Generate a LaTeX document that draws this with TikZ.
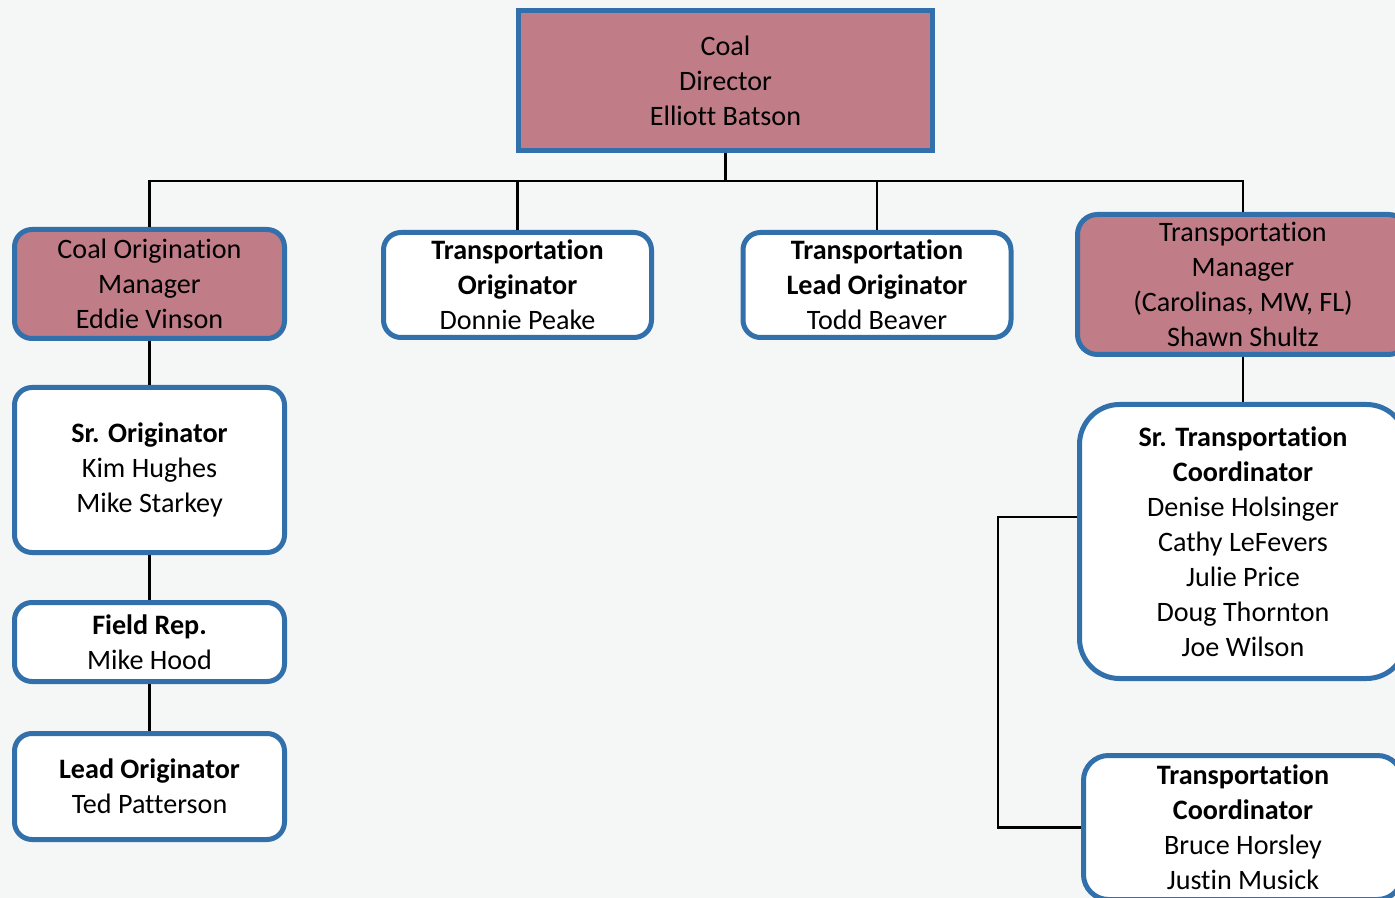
\documentclass[tikz,border=0pt]{standalone}
\usepackage{fontspec}
\setmainfont[Ligatures=NoCommon]{Carlito}
\usepackage{xcolor}
\usetikzlibrary{calc}

\definecolor{boxblue}{RGB}{50,112,172}
\definecolor{mgrpink}{RGB}{192,124,135}
\definecolor{paper}{RGB}{245,246,246}

\begin{document}
\begin{tikzpicture}[line width=1.4pt,
    unit/.style={draw=boxblue, line width=0.1cm, fill=white, align=center,
      inner sep=0pt, rounded corners=0.35cm,
      font=\fontsize{16}{19.9}\selectfont},
    mgr/.style={unit, fill=mgrpink},
    link/.style={draw=black, line width=1.4pt}]

  % page and background
  \useasboundingbox (0,0) rectangle (27.9,-17.96);
  \fill[paper] (0,0) rectangle (27.9,-17.96);

  % top of the chart
  \node[mgr, rounded corners=0pt, minimum width=8.28cm, minimum height=2.8cm]
    (dir) at (14.51,-1.61) {Coal\\Director\\Elliott Batson};

  % second level
  \node[mgr, minimum width=5.4cm, minimum height=2.18cm]
    (com) at (2.99,-5.68) {Coal Origination\\Manager\\Eddie Vinson};
  \node[unit, minimum width=5.36cm, minimum height=2.1cm]
    (to) at (10.35,-5.7) {\textbf{Transportation}\\\textbf{Originator}\\Donnie Peake};
  \node[unit, minimum width=5.36cm, minimum height=2.1cm]
    (tlo) at (17.54,-5.7) {\textbf{Transportation}\\\textbf{Lead Originator}\\Todd Beaver};
  \node[mgr, rounded corners=0.4cm, minimum width=6.62cm, minimum height=2.8cm]
    (tm) at (24.86,-5.69) {Transportation\\Manager\\(Carolinas, MW, FL)\\Shawn Shultz};

  % coal origination branch
  \node[unit, minimum width=5.4cm, minimum height=3.3cm]
    (sro) at (2.99,-9.4) {\textbf{Sr. Originator}\\Kim Hughes\\Mike Starkey};
  \node[unit, minimum width=5.4cm, minimum height=1.58cm]
    (fr) at (2.99,-12.84) {\textbf{Field Rep.}\\Mike Hood};
  \node[unit, minimum width=5.4cm, minimum height=2.12cm]
    (lo) at (2.99,-15.73) {\textbf{Lead Originator}\\Ted Patterson};

  % transportation branch
  \node[unit, rounded corners=0.8cm, minimum width=6.54cm, minimum height=5.48cm]
    (stc) at (24.86,-10.83) {\textbf{Sr. Transportation}\\\textbf{Coordinator}\\Denise Holsinger\\Cathy LeFevers\\Julie Price\\Doug Thornton\\Joe Wilson};
  \node[unit, rounded corners=0.5cm, minimum width=6.38cm, minimum height=2.88cm]
    (tc) at (24.86,-16.55) {\textbf{Transportation}\\\textbf{Coordinator}\\Bruce Horsley\\Justin Musick};

  % connectors
  \coordinate (bus) at (14.51,-3.62);
  \draw[link] (dir.south) -- (bus);
  \draw[link] (com.north) |- (bus);
  \draw[link] (to.north) |- (bus);
  \draw[link] (tlo.north) |- (bus);
  \draw[link] (tm.north) |- (bus);
  \draw[link] (com) -- (sro) -- (fr) -- (lo);
  \draw[link] (tm) -- (stc);
  \draw[link] ([yshift=0.49cm]stc.west) -- ++(-1.58cm,0) |- (tc.west);

\end{tikzpicture}
\end{document}
